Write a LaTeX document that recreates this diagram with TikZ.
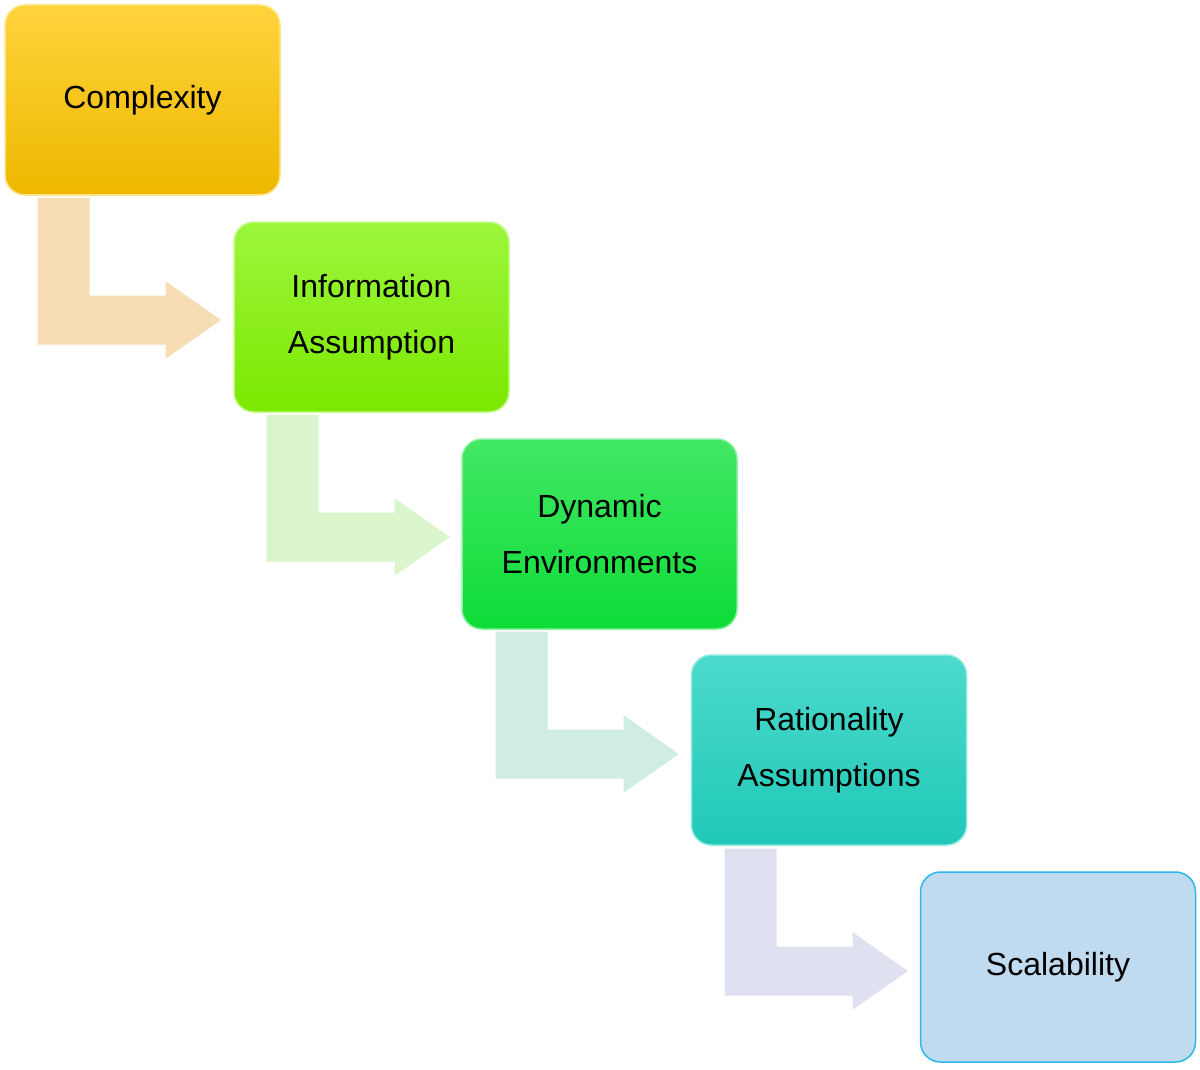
\documentclass[tikz,border=0pt]{standalone}
\usepackage{fontspec}
\setmainfont{Liberation Sans}
\definecolor{cplxline}{HTML}{FFE58A}
\definecolor{infoline}{HTML}{C4FA8A}
\definecolor{dynline}{HTML}{8AF0A0}
\definecolor{ratline}{HTML}{8AE8DE}
\tikzset{every picture/.style={line width=0.75pt}}
\tikzset{
  stepbox/.style={draw, rounded corners=20pt, minimum width=275pt, minimum height=190pt,
    inner sep=0pt, align=center, font=\fontsize{32}{56}\selectfont, line width=1.5pt},
  bend arrow/.style={draw=white, line width=1pt}
}
\begin{document}
\begin{tikzpicture}[x=1pt,y=1pt,yscale=-1,xscale=1]
\useasboundingbox (0,0) rectangle (1200,1070);

%Connectors: bent arrows
\foreach \i/\fc in {0/F6DDB4,1/DBF6CC,2/CFEDE4,3/DFE1F0}{
  \definecolor{arrowfill}{HTML}{\fc}
  \begin{scope}[shift={(229*\i,217*\i)}]
    \filldraw[bend arrow, fill=arrowfill] (37,197) -- (90,197) -- (90,295) -- (165,295) -- (165,280)
      -- (222,320) -- (165,360) -- (165,345) -- (37,345) -- cycle ;
  \end{scope}
}

%Steps
\node[stepbox, draw=cplxline, top color={rgb,255:red,255;green,212;blue,60}, bottom color={rgb,255:red,238;green,184;blue,0}] (cplx) at (142.5,100) {Complexity};
\node[stepbox, draw=infoline, top color={rgb,255:red,156;green,246;blue,60}, bottom color={rgb,255:red,124;green,232;blue,0}] (info) at (371.5,317) {Information\\Assumption};
\node[stepbox, draw=dynline, top color={rgb,255:red,66;green,232;blue,100}, bottom color={rgb,255:red,14;green,220;blue,56}] (dyn) at (599.5,534) {Dynamic\\Environments};
\node[stepbox, draw=ratline, top color={rgb,255:red,76;green,218;blue,204}, bottom color={rgb,255:red,32;green,200;blue,184}] (rat) at (829,750) {Rationality\\Assumptions};
\node[stepbox, draw={rgb,255:red,43;green,184;blue,232}, fill={rgb,255:red,192;green,218;blue,240}] (scal) at (1058,967) {Scalability};

\end{tikzpicture}
\end{document}
